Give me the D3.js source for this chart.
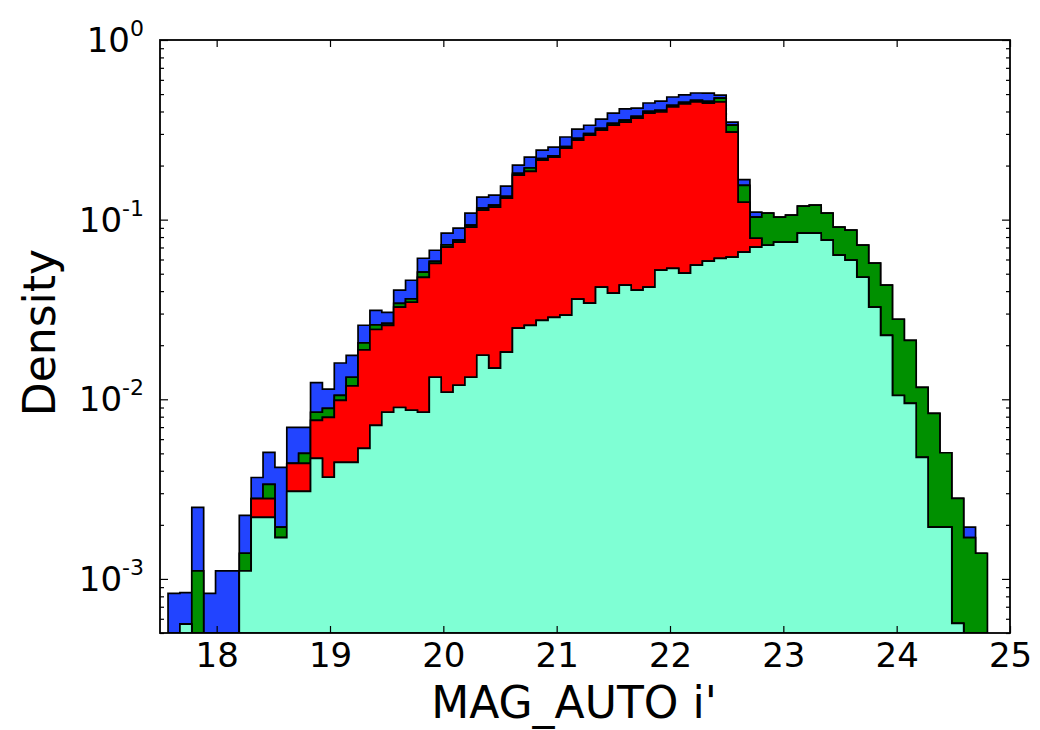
<!DOCTYPE html>
<html>
<head>
<meta charset="utf-8">
<script src="https://cdn.jsdelivr.net/npm/d3@7"></script>
<style>
  body { margin: 0; background: #fff; }
  text { font-family: "DejaVu Sans", sans-serif; fill: #000; }
</style>
</head>
<body>
<div class="canvas"></div>
<script>
const dims = { width: 1040, height: 730 }
const plot = { left: 160, right: 1010, top: 40, bottom: 633 }

// histogram bins (MAG_AUTO i')
const magMin = 17.571
const binWidth = 0.10478
const binCount = 69

// densities per bin (stack order bottom -> top)
const cyanVals = [
  0, 0.00056, 0, 0, 0, 0, 0.00111, 0.0022, 0.0022, 0.0017,
  0.00307, 0.00307, 0.00469, 0.00368, 0.00446, 0.00446, 0.00533, 0.00716, 0.00847, 0.009,
  0.00869, 0.00847, 0.01326, 0.01094, 0.01197, 0.01326, 0.01758, 0.0149, 0.0183, 0.0249,
  0.0258, 0.0275, 0.0286, 0.0294, 0.0361, 0.0343, 0.0421, 0.039, 0.0432, 0.0405,
  0.0421, 0.0523, 0.0536, 0.0504, 0.0558, 0.0587, 0.0608, 0.0618, 0.066, 0.0703,
  0.072, 0.0749, 0.0749, 0.0841, 0.0841, 0.0769, 0.0634, 0.0595, 0.0478, 0.0326,
  0.0227, 0.0105, 0.0095, 0.00475, 0.00194, 0.00194, 0.000565, 0, 0
]
const redVals = [
  0, 0, 0, 0, 0, 0, 0, 0.0006, 0.0006, 0,
  0.00133, 0.00133, 0.00295, 0.00426, 0.00541, 0.0074, 0.0135, 0.0173, 0.0173, 0.0236,
  0.026, 0.0393, 0.0439, 0.0594, 0.0629, 0.0775, 0.0953, 0.1025, 0.1134, 0.152,
  0.160, 0.187, 0.194, 0.221, 0.241, 0.261, 0.273, 0.297, 0.306, 0.327,
  0.350, 0.345, 0.370, 0.390, 0.396, 0.387, 0.391, 0.245, 0.059, 0.0085,
  0, 0, 0, 0, 0, 0, 0, 0, 0, 0,
  0, 0, 0, 0, 0, 0, 0, 0, 0
]
const greenVals = [
  0, 0, 0.00111, 0, 0, 0, 0.00028, 0, 0.00056, 0.00024,
  0, 0.0006, 0.00083, 0.00096, 0.00065, 0.0014, 0.0018, 0.0015, 0.0007, 0.0016,
  0.0015, 0.0032, 0.0015, 0.002, 0.002, 0.0025, 0.003, 0.003, 0.003, 0.004,
  0.008, 0.004, 0.004, 0.005, 0.006, 0.006, 0.007, 0.008, 0.009, 0.008,
  0.008, 0.009, 0.009, 0.009, 0.009, 0.010, 0.023, 0.029, 0.030, 0.0244,
  0.0367, 0.0283, 0.031, 0.0348, 0.0365, 0.0318, 0.0274, 0.0279, 0.0243, 0.0246,
  0.0205, 0.0174, 0.0118, 0.0069, 0.0064, 0.0031, 0.00224, 0.0017, 0.00139
]
const blueVals = [
  0.00083, 0.00028, 0.00139, 0.00083, 0.00111, 0.00111, 0.00087, 0.00087, 0.0017, 0.00224,
  0.00258, 0.00198, 0.0039, 0.0025, 0.0054, 0.0043, 0.0052, 0.0053, 0.004, 0.0063,
  0.0098, 0.010, 0.0089, 0.0118, 0.0128, 0.0154, 0.0175, 0.0165, 0.019, 0.020,
  0.029, 0.025, 0.0265, 0.033, 0.036, 0.034, 0.041, 0.048, 0.055, 0.042,
  0.046, 0.051, 0.049, 0.045, 0.046, 0.051, 0.019, 0.013, 0.012, 0.0068,
  0, 0, 0, 0, 0, 0, 0, 0, 0, 0,
  0, 0, 0, 0, 0, 0, 0, 0.00024, 0
]

const xTicks = [18, 19, 20, 21, 22, 23, 24, 25]
const yDecades = [1e-3, 1e-2, 1e-1, 1]
const yLabels = ['-3', '-2', '-1', '0']

const keys = ['cyan', 'red', 'green', 'blue']
const colors = { cyan: '#7fffd4', red: '#ff0000', green: '#009000', blue: '#2244ff' }

const svg = d3.select('.canvas')
              .append('svg')
              .attr('width', dims.width)
              .attr('height', dims.height)

svg.append('rect').attr('width', dims.width).attr('height', dims.height).attr('fill', '#fff')

const x = d3.scaleLinear().domain([17.5, 25]).range([plot.left, plot.right])
const y = d3.scaleLog().domain([5e-4, 1]).range([plot.bottom, plot.top]).clamp(true)

// rows, one per bin edge (last row closes the final step)
const rows = d3.range(binCount + 1).map(i => {
  const j = Math.min(i, binCount - 1)
  return {
    edge: magMin + i * binWidth,
    cyan: cyanVals[j], red: redVals[j], green: greenVals[j], blue: blueVals[j]
  }
})

const series = d3.stack().keys(keys)(rows)

svg.append('clipPath').attr('id', 'clip')
   .append('rect')
   .attr('x', plot.left).attr('y', plot.top)
   .attr('width', plot.right - plot.left).attr('height', plot.bottom - plot.top)

const floor = 1e-6
const area = d3.area()
               .x(d => x(d.data.edge))
               .y0(d => y(Math.max(d[0], floor)))
               .y1(d => y(Math.max(d[1], floor)))
               .curve(d3.curveStepAfter)

const graph = svg.append('g').attr('clip-path', 'url(#clip)')

// draw top layers first, like matplotlib's stacked stepfilled
graph.selectAll('.layer')
     .data(series.slice().reverse())
     .enter()
     .append('path')
     .attr('class', 'layer')
     .attr('fill', d => colors[d.key])
     .attr('stroke', '#000')
     .attr('stroke-width', 1.7)
     .attr('stroke-linejoin', 'miter')
     .attr('d', area)

// minor log ticks
const minorTicks = []
yDecades.slice(0, 3).forEach(dec => {
  d3.range(2, 10).forEach(m => minorTicks.push(dec * m))
})
d3.range(5, 10).forEach(m => minorTicks.push(1e-4 * m))

const axes = svg.append('g')

const styleAxis = g => {
  g.select('.domain').remove()
  g.selectAll('.tick line').attr('stroke', '#000').attr('stroke-width', 1.2)
}

axes.append('g')
    .attr('transform', `translate(0, ${plot.bottom})`)
    .call(d3.axisBottom(x).tickValues(xTicks).tickSizeInner(-7).tickSizeOuter(0)
             .tickPadding(10).tickFormat(d3.format('d')))
    .call(styleAxis)
    .call(g => g.selectAll('.tick text').attr('font-size', 34).attr('font-family', 'DejaVu Sans'))

axes.append('g')
    .attr('transform', `translate(0, ${plot.top})`)
    .call(d3.axisTop(x).tickValues(xTicks).tickSizeInner(-7).tickSizeOuter(0).tickFormat(''))
    .call(styleAxis)

axes.append('g')
    .attr('transform', `translate(${plot.left}, 0)`)
    .call(d3.axisLeft(y).tickValues(yDecades).tickSizeInner(-8).tickSizeOuter(0).tickFormat(''))
    .call(styleAxis)

axes.append('g')
    .attr('transform', `translate(${plot.left}, 0)`)
    .call(d3.axisLeft(y).tickValues(minorTicks).tickSizeInner(-4).tickSizeOuter(0).tickFormat(''))
    .call(styleAxis)

axes.append('g')
    .attr('transform', `translate(${plot.right}, 0)`)
    .call(d3.axisRight(y).tickValues(yDecades).tickSizeInner(-8).tickSizeOuter(0).tickFormat(''))
    .call(styleAxis)

axes.append('g')
    .attr('transform', `translate(${plot.right}, 0)`)
    .call(d3.axisRight(y).tickValues(minorTicks).tickSizeInner(-4).tickSizeOuter(0).tickFormat(''))
    .call(styleAxis)

// y tick labels with superscript exponents
const yText = svg.append('g').selectAll('text')
                 .data(yDecades)
                 .enter()
                 .append('text')
                 .attr('x', plot.left - 16)
                 .attr('y', d => y(d) + 12)
                 .attr('text-anchor', 'end')
                 .attr('font-size', 34)

yText.append('tspan').text('10')
yText.append('tspan')
     .attr('font-size', 22)
     .attr('dy', -16)
     .text((d, i) => yLabels[i])

// frame
svg.append('rect')
   .attr('x', plot.left).attr('y', plot.top)
   .attr('width', plot.right - plot.left).attr('height', plot.bottom - plot.top)
   .attr('fill', 'none')
   .attr('stroke', '#000')
   .attr('stroke-width', 1.8)

// axis titles
svg.append('text')
   .attr('x', (plot.left + plot.right) / 2 - 11)
   .attr('y', 718)
   .attr('text-anchor', 'middle')
   .attr('font-size', 44)
   .text("MAG_AUTO i'")

svg.append('text')
   .attr('transform', `translate(55, ${(plot.top + plot.bottom) / 2 - 4}) rotate(-90)`)
   .attr('text-anchor', 'middle')
   .attr('font-size', 44)
   .text('Density')
</script>
</body>
</html>
